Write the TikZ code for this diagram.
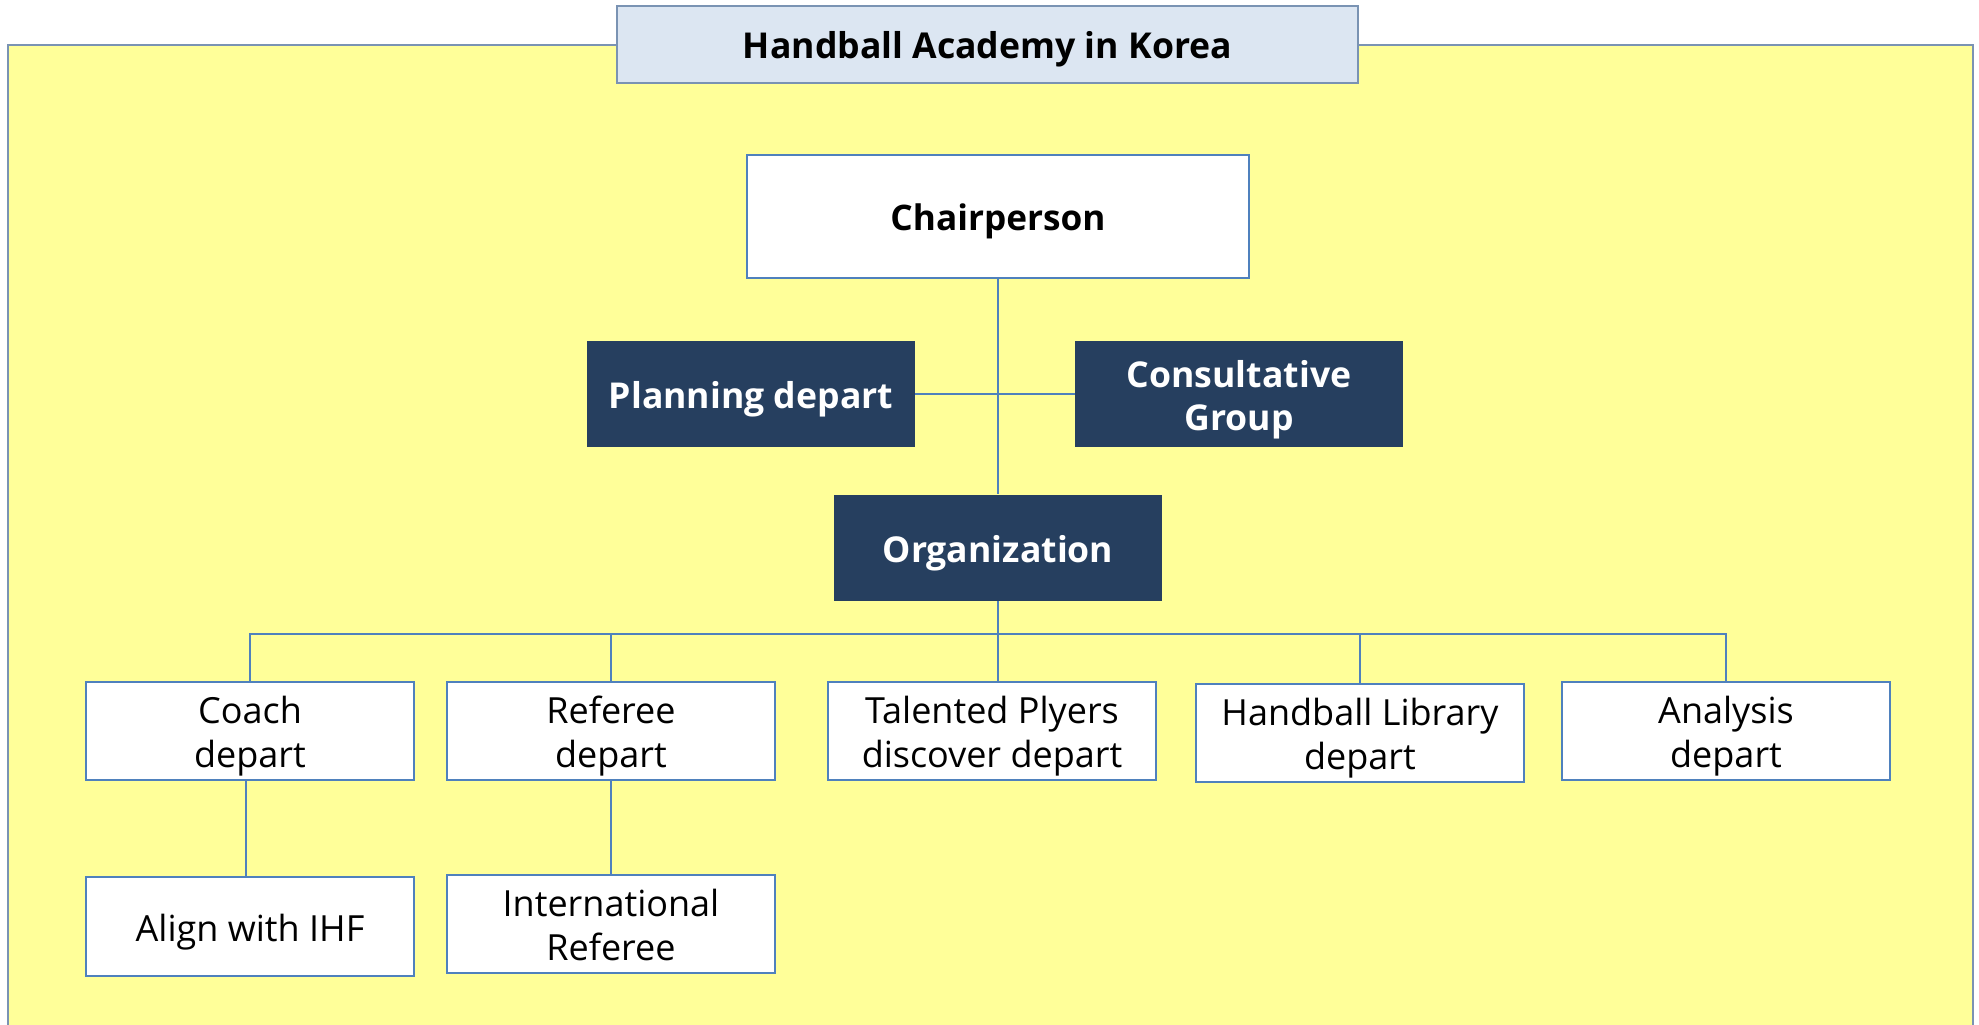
\documentclass[tikz,border=0pt]{standalone}
\usepackage{fontspec}
\setmainfont{Open Sans}
\definecolor{bg}{HTML}{FFFF99}
\definecolor{edge}{HTML}{4F81BD}
\definecolor{navy}{HTML}{263F5F}
\definecolor{titlefill}{HTML}{DCE6F2}
\definecolor{titleedge}{HTML}{7A93B3}
\newcommand{\lw}[1]{\raisebox{-3pt}[\height][\depth]{\begin{tabular}{@{}c@{}}#1\end{tabular}}}
\begin{document}
\begin{tikzpicture}[x=0.5pt,y=-0.5pt,
  box/.style={draw=edge,line width=0.6pt,fill=white,inner sep=0pt,
    minimum width=164pt,minimum height=49pt,font=\fontsize{18}{22}\selectfont},
  darkbox/.style={fill=navy,text=white,inner sep=0pt,
    minimum width=164pt,minimum height=53pt,font=\fontsize{17.8}{21.5}\selectfont\bfseries},
  conn/.style={draw=edge,line width=0.7pt}]
\useasboundingbox (0,0) rectangle (1979,1024);
\fill[bg] (8,45) rectangle (1973,1030);
\draw[titleedge,line width=0.7pt] (8,1030) -- (8,45) -- (1973,45) -- (1973,1030);
\node[draw=titleedge,line width=0.8pt,fill=titlefill,minimum width=370.5pt,minimum height=38.5pt,inner sep=0pt,font=\fontsize{17.8}{20}\selectfont\bfseries] (title) at (987.5,44.5) {\lw{Handball Academy in Korea}};
\node[box,minimum width=251pt,minimum height=61.5pt,font=\fontsize{17.6}{20}\selectfont\bfseries] (chair) at (998,216.5) {\lw{Chairperson}};
\node[darkbox] (plan) at (751,394) {\lw{Planning depart}};
\node[darkbox] (cons) at (1239,394) {\lw{Consultative\\Group}};
\node[darkbox] (org) at (998,547.5) {\lw{Organization}};
\node[box] (coach) at (250,731) {\lw{Coach\\depart}};
\node[box] (ref) at (611,731) {\lw{Referee\\depart}};
\node[box] (tal) at (992,731) {\lw{Talented Plyers\\discover depart}};
\node[box] (lib) at (1360,733) {\lw{Handball Library\\depart}};
\node[box] (ana) at (1726,731) {\lw{Analysis\\depart}};
\node[box,minimum height=49.5pt] (ihf) at (250,926.5) {\lw{Align with IHF}};
\node[box] (intl) at (611,924) {\lw{International\\Referee}};
\coordinate (bus) at (998,634);
\draw[conn] (chair.south) -- (org.north);
\draw[conn] (plan.east) -- (cons.west);
\draw[conn] (org.south) -- (bus);
\draw[conn] (coach.north) |- (bus) -| (ana.north);
\draw[conn] (ref.north) -- (ref.north |- bus);
\draw[conn] (bus) -- (bus |- tal.north);
\draw[conn] (lib.north) -- (lib.north |- bus);
\draw[conn] ([xshift=-2pt]coach.south) -- ([xshift=-2pt]ihf.north);
\draw[conn] (ref.south) -- (intl.north);
\end{tikzpicture}
\end{document}
